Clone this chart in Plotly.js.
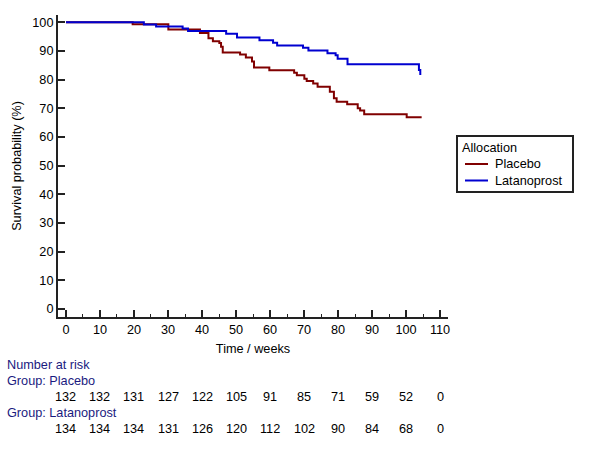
<!DOCTYPE html>
<html>
<head>
<meta charset="utf-8">
<script src="https://cdn.plot.ly/plotly-3.0.1.min.js"></script>
<style>html,body{margin:0;padding:0;background:#fff;}#chart{width:601px;height:451px;}</style>
</head>
<body>
<div id="chart"></div>
<script>
// Kaplan-Meier step data
const placeboTime = [0, 19.6, 30.1, 39.4, 41.9, 43.2, 45.1, 45.6, 46.1, 51.2, 52.9, 54.7, 55.3, 59.8, 67.1, 67.9, 70.1, 70.8, 72.7, 74.0, 77.6, 78.8, 79.6, 82.7, 85.8, 86.5, 87.7, 100.2, 104.6];
const placeboSurv = [100, 99.3, 97.5, 96.3, 94.4, 93.4, 92.8, 91.5, 89.5, 88.8, 87.7, 86.3, 84.2, 83.3, 82.4, 81.5, 80.3, 79.5, 78.7, 77.5, 75.8, 73.5, 72.3, 71.4, 70.0, 69.2, 67.9, 66.9, 66.9];

const latanoTime = [0, 22.9, 26.5, 34.3, 35.9, 47.1, 50.3, 56.9, 60.9, 62.1, 69.7, 71.3, 76.9, 79.3, 79.9, 82.8, 103.8, 104.2];
const latanoSurv = [100, 99.2, 98.5, 97.8, 97.0, 96.0, 94.7, 93.7, 92.9, 91.9, 91.1, 90.2, 89.2, 88.5, 87.3, 85.4, 83.4, 81.6];

// Number at risk table
const riskTimes = [0, 10, 20, 30, 40, 50, 60, 70, 80, 90, 100, 110];
const riskPlacebo = [132, 132, 131, 127, 122, 105, 91, 85, 71, 59, 52, 0];
const riskLatano = [134, 134, 134, 131, 126, 120, 112, 102, 90, 84, 68, 0];

const groupNames = ['Placebo', 'Latanoprost'];
const groupColors = ['#800000', '#0000d0'];

const FONT = "'Liberation Sans', Arial, sans-serif";
const FS = 12.7;
const AXC = '#222222';
const LABC = '#1a1a80';

const traces = [
  {x: placeboTime, y: placeboSurv, name: groupNames[0], type: 'scatter', mode: 'lines',
   line: {shape: 'hv', color: groupColors[0], width: 2}, showlegend: false},
  {x: latanoTime, y: latanoSurv, name: groupNames[1], type: 'scatter', mode: 'lines',
   line: {shape: 'hv', color: groupColors[1], width: 2}, showlegend: false}
];

const plotLeft = 58, plotRight = 448, plotW = plotRight - plotLeft;
const plotTop = 15, plotBottom = 317, plotH = plotBottom - plotTop;
const px = p => (p - plotLeft) / plotW;
const py = p => (plotBottom - p) / plotH;

const annotations = [];
const shapes = [];
const lab = (x, y, text, color, anchor) => annotations.push({xref: 'paper', yref: 'paper', x: x, y: y, xanchor: anchor || 'left', yanchor: 'middle', text: text, showarrow: false, font: {family: FONT, size: FS, color: color}});

lab(px(5), py(365), 'Number at risk', LABC);
lab(px(5), py(381), 'Group: ' + groupNames[0], LABC);
lab(px(5), py(413), 'Group: ' + groupNames[1], LABC);
riskTimes.forEach((t, i) => {
  annotations.push({xref: 'x', yref: 'paper', x: t, y: py(397), xanchor: 'center', yanchor: 'middle', text: String(riskPlacebo[i]), showarrow: false, font: {family: FONT, size: FS, color: '#000'}});
  annotations.push({xref: 'x', yref: 'paper', x: t, y: py(429), xanchor: 'center', yanchor: 'middle', text: String(riskLatano[i]), showarrow: false, font: {family: FONT, size: FS, color: '#000'}});
});

// Legend box (drawn as layout decoration)
shapes.push({type: 'rect', xref: 'paper', yref: 'paper', x0: px(457), x1: px(573), y0: py(136), y1: py(192), line: {color: AXC, width: 2}, fillcolor: '#fff', layer: 'above'});
lab(px(460), py(148), 'Allocation', '#000');
[164, 180.5].forEach((yy, i) => {
  shapes.push({type: 'line', xref: 'paper', yref: 'paper', x0: px(465), x1: px(488), y0: py(yy), y1: py(yy), line: {color: groupColors[i], width: 2}});
  lab(px(493), py(yy), groupNames[i], '#000');
});

const layout = {
  width: 601, height: 451,
  margin: {l: plotLeft, r: 601 - plotRight, t: plotTop, b: 451 - plotBottom},
  paper_bgcolor: '#fff', plot_bgcolor: '#fff',
  font: {family: FONT, size: FS, color: '#000'},
  showlegend: false,
  xaxis: {
    range: [-2.35, 112.35], tickvals: riskTimes, ticks: 'inside', ticklen: 7, tickwidth: 2, tickcolor: AXC,
    showline: true, linecolor: AXC, linewidth: 2, showgrid: false, zeroline: false,
    minor: {dtick: 5, tick0: 0, ticks: 'inside', ticklen: 3, tickwidth: 1, tickcolor: AXC},
    title: {text: 'Time / weeks', font: {family: FONT, size: FS}, standoff: 8},
    tickfont: {family: FONT, size: FS}
  },
  yaxis: {
    range: [-2.79, 102.55], tickvals: [0,10,20,30,40,50,60,70,80,90,100], ticks: 'inside', ticklen: 7, tickwidth: 2, tickcolor: AXC,
    showline: true, linecolor: AXC, linewidth: 2, showgrid: false, zeroline: false,
    title: {text: 'Survival probability (%)', font: {family: FONT, size: FS}, standoff: 8},
    tickfont: {family: FONT, size: FS}
  },
  shapes: shapes,
  annotations: annotations
};

Plotly.newPlot('chart', traces, layout, {displayModeBar: false, staticPlot: true});
</script>
</body>
</html>
